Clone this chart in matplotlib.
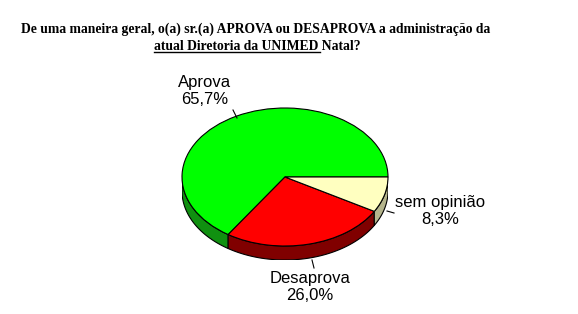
import numpy as np
import matplotlib
matplotlib.use("Agg")
import matplotlib.pyplot as plt
from matplotlib.patches import Polygon

# ---- data ----
labels = ["Aprova", "Desaprova", "sem opinião"]
values = [65.7, 26.0, 8.3]
pct_labels = ["65,7%", "26,0%", "8,3%"]
top_colors = ["#00ff00", "#ff0000", "#ffffc0"]
side_colors = ["#109010", "#800000", "#b4b48c"]
title1 = "De uma maneira geral, o(a) sr.(a) APROVA ou DESAPROVA a administração da"
title2_u = "atual Diretoria da UNIMED "
title2_n = "Natal?"

W, H = 578, 314
fig = plt.figure(figsize=(W / 100, H / 100), dpi=100)
fig.patch.set_facecolor("white")

# pie geometry in pixels
cx, cy, rx, ry, depth = 285, 177, 103, 69, 14
dd = depth / ry

ax = fig.add_axes([(cx - rx) / W, (H - (cy + ry + depth)) / H, 2 * rx / W, (2 * ry + depth) / H])
ax.pie(values, colors=top_colors, startangle=0, counterclock=True,
       wedgeprops=dict(edgecolor="black", linewidth=0.8, zorder=3))
ax.set_aspect("auto")
ax.set_xlim(-1, 1)
ax.set_ylim(-1 - dd, 1)
ax.axis("off")

# side walls (front half only)
bounds = np.concatenate([[0], np.cumsum(values)]) / sum(values) * 360.0
for i in range(len(values)):
    a0, a1 = max(bounds[i], 180.0), min(bounds[i + 1], 360.0)
    if a1 <= a0:
        continue
    t = np.radians(np.linspace(a0, a1, 80))
    top = np.column_stack([np.cos(t), np.sin(t)])
    bot = np.column_stack([np.cos(t), np.sin(t) - dd])[::-1]
    ax.add_patch(Polygon(np.vstack([top, bot]), closed=True, facecolor=side_colors[i],
                         edgecolor="black", linewidth=0.8, zorder=1))

# overlay in pixel coords
ov = fig.add_axes([0, 0, 1, 1])
ov.set_xlim(0, W)
ov.set_ylim(H, 0)
ov.axis("off")

lab_font = dict(family="Liberation Sans", fontsize=12, ha="center", va="center")
# label positions (pixels)
lab_pos = [(205, 82, 100), (310, 278, 295), (440, 202, 219)]
leaders = [((233, 110), (237, 118)), ((312, 260), (314, 268)), ((387, 211), (394, 213))]
for i in range(len(values)):
    x, y1, y2 = lab_pos[i]
    ov.text(x, y1, labels[i], **lab_font)
    ov.text(x, y2, pct_labels[i], **lab_font)
    (x0, y0), (x1, y1_) = leaders[i]
    ov.plot([x0, x1], [y0, y1_], color="black", lw=0.8)

tfont = dict(family="Liberation Serif", fontweight="bold", fontsize=9.8, va="center")
ov.text(256, 29, title1, ha="center", **tfont)
full = ov.text(257, 46, title2_u + title2_n, ha="center", **tfont)
fig.canvas.draw()
r = fig.canvas.get_renderer()
bb = full.get_window_extent(r)
tmp = ov.text(0, 0, title2_n, **tfont)
wn = tmp.get_window_extent(r).width
tmp.remove()
x_start = bb.x0
x_end = bb.x1 - wn - 1
y_line = H - bb.y0 + 1
ov.plot([x_start, x_end], [y_line - 2, y_line - 2], color="black", lw=1.0)

fig.savefig("out.png", dpi=100)
